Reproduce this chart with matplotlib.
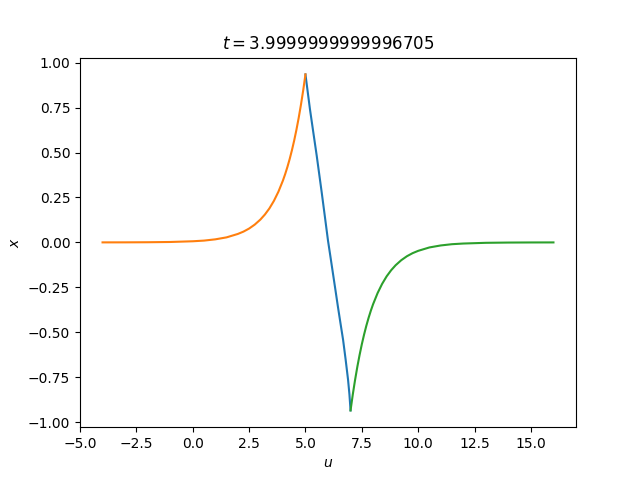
import matplotlib
matplotlib.use("Agg")
import matplotlib.pyplot as plt

# values
t_value = "3.9999999999996705"

mid_u = [5.0, 5.1, 5.2, 5.35, 5.5, 5.72, 5.86, 6.0, 6.11, 6.22, 6.33, 6.44,
         6.55, 6.67, 6.78, 6.89, 6.95, 7.0]
mid_x = [0.935, 0.838, 0.741, 0.611, 0.482, 0.279, 0.145, 0.01, -0.081,
         -0.173, -0.265, -0.358, -0.447, -0.543, -0.650, -0.765, -0.845,
         -0.935]

left_u = [-4.0, -3.0, -2.0, -1.0, 0.0, 0.5, 1.0, 1.5, 2.0, 2.25, 2.5, 2.75,
          3.0, 3.2, 3.4, 3.6, 3.8, 4.0, 4.1, 4.2, 4.3, 4.4, 4.5, 4.6, 4.7,
          4.8, 4.9, 5.0]
left_x = [0.0001, 0.0003, 0.0009, 0.0023, 0.0063, 0.010, 0.017, 0.028, 0.047,
          0.060, 0.077, 0.099, 0.127, 0.155, 0.189, 0.231, 0.282, 0.344,
          0.380, 0.420, 0.464, 0.513, 0.567, 0.627, 0.693, 0.766, 0.846,
          0.935]

right_u = [7.0, 7.1, 7.2, 7.3, 7.4, 7.5, 7.6, 7.7, 7.8, 7.9, 8.0, 8.2, 8.4,
           8.6, 8.8, 9.0, 9.25, 9.5, 9.75, 10.0, 10.5, 11.0, 11.5, 12.0, 13.0,
           14.0, 15.0, 16.0]
right_x = [-0.935, -0.846, -0.766, -0.693, -0.627, -0.567, -0.513, -0.464,
           -0.420, -0.380, -0.344, -0.282, -0.231, -0.189, -0.155, -0.127,
           -0.099, -0.077, -0.060, -0.047, -0.028, -0.017, -0.010, -0.0063,
           -0.0023, -0.0009, -0.0003, -0.0001]

fig, ax = plt.subplots(figsize=(6.4, 4.8), dpi=100)
ax.plot(mid_u, mid_x)
ax.plot(left_u, left_x)
ax.plot(right_u, right_x)

ax.set_title(f"$t = {t_value}$")
ax.set_xlabel("$u$")
ax.set_ylabel("$x$")

fig.savefig("out.png", dpi=100)
plt.close(fig)
